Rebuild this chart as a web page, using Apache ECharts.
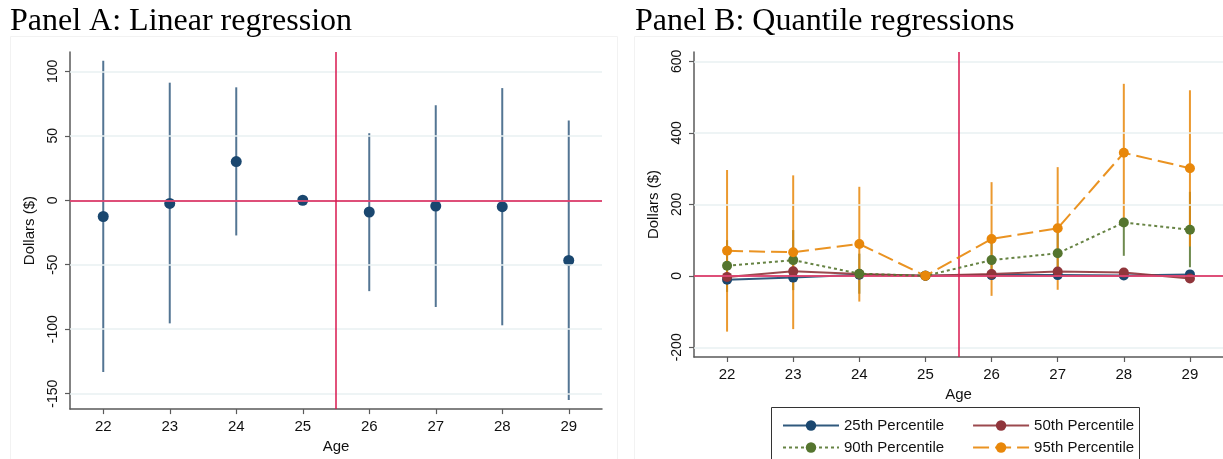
<!DOCTYPE html>
<html>
<head>
<meta charset="utf-8">
<script src="https://cdn.jsdelivr.net/npm/echarts@6/dist/echarts.min.js"></script>
<style>html,body{margin:0;padding:0;background:#fff;}#c{width:1223px;height:459px;}</style>
</head>
<body>
<div id="c"></div>
<script>
// ---- data ----
const ages = [22, 23, 24, 25, 26, 27, 28, 29];
const xTicks = [22, 23, 24, 25, 26, 27, 28, 29];
const yTicksA = [-150, -100, -50, 0, 50, 100];
const yTicksB = [-200, 0, 200, 400, 600];
const cutoffAge = 25.5;

// Panel A: linear regression
const linEst = [-12.6, -2.5, 30, 0, -9.1, -4.5, -5, -46.7];
const linLo  = [-133.3, -95.5, -27.3, null, -70.5, -82.8, -97, -155];
const linHi  = [108.3, 91.2, 87.6, null, 52, 73.7, 87, 61.9];

// Panel B: quantile regressions
const q25 = [-11, -5, 3, 0, 2, 2, 1, 4];
const q50 = [-3, 13, 5, 0, 5, 12, 9, -7.5];
const q90 = [28, 44, 6, 0, 44, 63, 149, 129];
const q95 = [70, 66, 89, 0, 103, 133, 344, 301];
const q90Lo = [-45, -40, -50, null, -10, 5, 56, 24];
const q90Hi = [100, 128, 62, null, 98, 121, 150, 235];
const q95Lo = [-156, -149, -72, null, -56, -39, 155, 82];
const q95Hi = [296, 281, 249, null, 262, 304, 537, 519];

const seriesNames = ['25th Percentile', '50th Percentile', '90th Percentile', '95th Percentile'];

// ---- styles ----
const NAVY = '#1a476f', MAROON = '#90353b', GREEN = '#55752f', ORANGE = '#e8870a';
const RED = '#d8194f', GRIDC = '#e9f1f2', AXC = '#5a5a5a';
const SANS = 'Liberation Sans, Arial, sans-serif';

function pairs(vals) { return ages.map((a, i) => [a, vals[i]]); }
function ciData(lo, hi) {
  const out = [];
  ages.forEach((a, i) => { if (lo[i] != null && hi[i] != null) out.push([a, lo[i], hi[i]]); });
  return out;
}
function ciSeries(idx, lo, hi, color, opacity, z) {
  return {
    type: 'custom', xAxisIndex: idx, yAxisIndex: idx, z: z, silent: true,
    data: ciData(lo, hi),
    renderItem: function (params, api) {
      const p1 = api.coord([api.value(0), api.value(1)]);
      const p2 = api.coord([api.value(0), api.value(2)]);
      return { type: 'line', shape: { x1: p1[0], y1: p1[1], x2: p2[0], y2: p2[1] },
               style: { stroke: color, lineWidth: 2, opacity: opacity } };
    }
  };
}
function refLines(idx, gridVals) {
  const d = gridVals.map(v => ({ yAxis: v, lineStyle: { color: GRIDC, width: 1.5, type: 'solid' } }));
  d.push({ yAxis: 0, lineStyle: { color: RED, width: 1.5, type: 'solid' } });
  d.push({ xAxis: cutoffAge, lineStyle: { color: RED, width: 1.5, type: 'solid' } });
  return {
    type: 'line', xAxisIndex: idx, yAxisIndex: idx, z: 1, silent: true, data: [],
    markLine: { silent: true, symbol: ['none', 'none'], label: { show: false }, animation: false, data: d }
  };
}
function xAxis(idx) {
  return {
    type: 'value', gridIndex: idx, min: 21.5, max: 29.5,
    name: 'Age', nameLocation: 'middle', nameGap: 27,
    nameTextStyle: { fontFamily: SANS, fontSize: 15, color: '#111' },
    axisLine: { show: true, onZero: false, lineStyle: { color: AXC, width: 1.5 } },
    axisTick: { show: true, length: 5, customValues: xTicks, lineStyle: { color: AXC, width: 1.2 } },
    axisLabel: { customValues: xTicks, margin: 10, fontFamily: SANS, fontSize: 15, color: '#111' },
    splitLine: { show: false }
  };
}
function yAxis(idx, min, max, ticks) {
  return {
    type: 'value', gridIndex: idx, min: min, max: max,
    name: 'Dollars ($)', nameLocation: 'middle', nameGap: 33, nameRotate: 90,
    nameTextStyle: { fontFamily: SANS, fontSize: 15, color: '#111' },
    axisLine: { show: true, lineStyle: { color: AXC, width: 1.5 } },
    axisTick: { show: true, length: 5, customValues: ticks, lineStyle: { color: AXC, width: 1.2 } },
    axisLabel: { customValues: ticks, rotate: 90, margin: 10, fontFamily: SANS, fontSize: 14, color: '#111' },
    splitLine: { show: false }
  };
}
function qLine(name, vals, color, type, width, z) {
  return {
    name: name, type: 'line', xAxisIndex: 1, yAxisIndex: 1, z: z, data: pairs(vals),
    symbol: 'circle', symbolSize: 10, showSymbol: true,
    itemStyle: { color: color },
    lineStyle: { color: color, width: width, type: type, opacity: 0.9 },
    emphasis: { disabled: true }
  };
}

const chart = echarts.init(document.getElementById('c'), null, { renderer: 'canvas' });
chart.setOption({
  animation: false,
  backgroundColor: '#fff',
  title: [
    { text: 'Panel A: Linear regression', left: 5, top: 1,
      textStyle: { fontFamily: 'Liberation Serif, Times New Roman, serif', fontSize: 32, fontWeight: 'normal', color: '#000' } },
    { text: 'Panel B: Quantile regressions', left: 630, top: 1,
      textStyle: { fontFamily: 'Liberation Serif, Times New Roman, serif', fontSize: 32, fontWeight: 'normal', color: '#000' } }
  ],
  graphic: [
    { type: 'rect', shape: { x: 10.5, y: 36.5, width: 607, height: 440 }, style: { fill: 'none', stroke: '#f2f2f2', lineWidth: 1 }, silent: true, z: -1 },
    { type: 'rect', shape: { x: 634.5, y: 36.5, width: 600, height: 440 }, style: { fill: 'none', stroke: '#f2f2f2', lineWidth: 1 }, silent: true, z: -1 },
    { type: 'rect', shape: { x: 771.5, y: 407.5, width: 368, height: 60 }, style: { fill: '#fff', stroke: '#333', lineWidth: 1 }, silent: true, z: 0 }
  ],
  legend: [
    { data: [seriesNames[0], seriesNames[1]], left: 777, top: 413, itemWidth: 56, itemHeight: 13, itemGap: 28,
      textStyle: { fontFamily: SANS, fontSize: 15, color: '#111' }, z: 5 },
    { data: [seriesNames[2], seriesNames[3]], left: 777, top: 435, itemWidth: 56, itemHeight: 13, itemGap: 28,
      textStyle: { fontFamily: SANS, fontSize: 15, color: '#111' }, z: 5 }
  ],
  grid: [
    { left: 70, top: 52, width: 532, height: 366 },
    { left: 694, top: 52, width: 532, height: 305 }
  ],
  xAxis: [xAxis(0), xAxis(1)],
  yAxis: [yAxis(0, -162, 115, yTicksA), yAxis(1, -227, 626, yTicksB)],
  series: [
    refLines(0, yTicksA),
    ciSeries(0, linLo, linHi, NAVY, 0.75, 2),
    { type: 'scatter', xAxisIndex: 0, yAxisIndex: 0, z: 3, data: pairs(linEst),
      symbol: 'circle', symbolSize: 11, itemStyle: { color: NAVY, opacity: 1 }, silent: true },
    refLines(1, yTicksB),
    ciSeries(1, q90Lo, q90Hi, GREEN, 0.85, 2),
    ciSeries(1, q95Lo, q95Hi, ORANGE, 0.85, 2),
    qLine(seriesNames[0], q25, NAVY, 'solid', 2, 3),
    qLine(seriesNames[1], q50, MAROON, 'solid', 2, 4),
    qLine(seriesNames[2], q90, GREEN, [3, 3], 2, 5),
    qLine(seriesNames[3], q95, ORANGE, [16, 6], 2, 6)
  ]
});
</script>
</body>
</html>
